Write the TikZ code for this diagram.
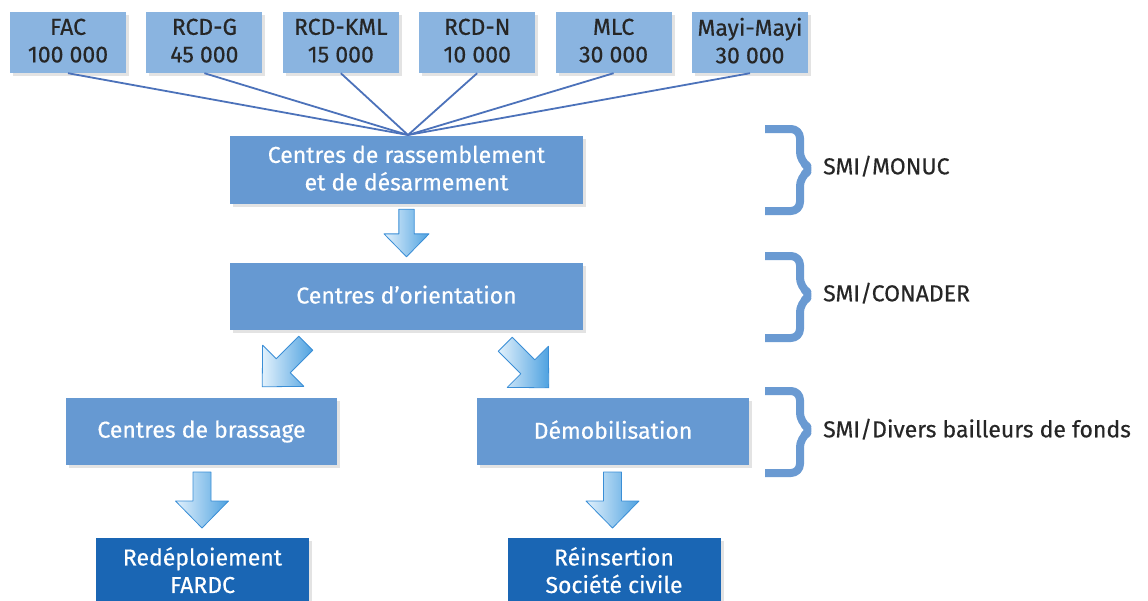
\documentclass[tikz,border=0pt]{standalone}
\usepackage{fontspec}
\setmainfont{Fira Sans}[RawFeature={embolden=0.45}]
\usetikzlibrary{positioning,shadows}
\definecolor{topblue}{HTML}{8AB4E0}
\definecolor{midblue}{HTML}{6699D2}
\definecolor{deepblue}{HTML}{1A66B4}
\definecolor{linkblue}{HTML}{4C72BA}
\definecolor{braceblue}{HTML}{6A9AD2}
\definecolor{arrowedge}{HTML}{3A8ED6}
\definecolor{arrowlight}{HTML}{E2F1FC}
\definecolor{arrowdark}{HTML}{4FA2E0}

% étai vertical pour centrer les capitales
\newcommand{\etai}{\rule[-4pt]{0pt}{20pt}}

% flèche bloc : #1 position, #2 rotation, #3 échelle
\newcommand{\blocfleche}[3]{
  \begin{scope}[shift={#1}, rotate=#2, scale=#3]
    \draw[fleche] (-9,-28) -- (9,-28) -- (9,1) -- (26.5,1) -- (0,28)
      -- (-26.5,1) -- (-9,1) -- cycle;
  \end{scope}
}

\begin{document}
\begin{tikzpicture}[x=1pt, y=-1pt, line join=round,
    every node/.style={font=\fontsize{23}{27.5}\selectfont, align=center, inner sep=0pt,
      execute at begin node=\etai, execute at end node=\etai},
    ombre/.style={drop shadow={opacity=0.22, shadow xshift=3pt, shadow yshift=-3pt}},
    force/.style={ombre, fill=topblue, text=black!85, minimum width=116pt, minimum height=61pt},
    etape/.style={ombre, fill=midblue, text=white, minimum height=67pt},
    sortie/.style={ombre, fill=deepblue, text=white, minimum width=213pt, minimum height=68pt},
    lien/.style={draw=linkblue, line width=1.8pt},
    accolade/.style={draw=braceblue, line width=8pt, rounded corners=9pt},
    fleche/.style={draw=arrowedge, line width=0.8pt, left color=arrowlight, right color=arrowdark},
    bailleur/.style={anchor=west, text=black!85}]
  \useasboundingbox (0,0) rectangle (1148,600);

  % 1. Forces d'origine
  \node[force] (fac) at (68,42.5) {FAC\\100 000};
  \node[force, right=20pt of fac] (rcdg) {RCD-G\\45 000};
  \node[force, right=20pt of rcdg] (kml) {RCD-KML\\15 000};
  \node[force, right=20pt of kml] (rcdn) {RCD-N\\10 000};
  \node[force, right=20pt of rcdn] (mlc) {MLC\\30 000};
  \node[force, right=20pt of mlc] (mayi) {Mayi-Mayi\\30 000};

  % 2. Étapes du processus
  \node[etape, minimum width=353pt, minimum height=68pt] (rass) at (406.5,170) {Centres de rassemblement\\et de désarmement};
  \node[etape, minimum width=353pt] (orient) at (406.5,296.5) {Centres d’orientation};
  \node[etape, minimum width=271pt] (brass) at (201.5,431.5) {Centres de brassage};
  \node[etape, minimum width=272pt] (demob) at (613,431.5) {Démobilisation};
  \node[sortie] (redep) at (202.5,572) {Redéploiement\\FARDC};
  \node[sortie] (reins) at (614,572) {Réinsertion\\Société civile};

  % 3. Liaisons vers le rassemblement
  \coordinate (hub) at (408,135);
  \foreach \f in {fac,rcdg,kml,rcdn,mlc,mayi}
    \draw[lien] (\f.south) -- (hub);

  % 4. Flèches bloc
  \blocfleche{(406.5,233)}{0}{0.85}
  \blocfleche{(284,365)}{-45}{1.1}
  \blocfleche{(527,366)}{45}{1.1}
  \blocfleche{(202,500)}{0}{1}
  \blocfleche{(612.5,500)}{0}{1}

  % 5. Accolades et bailleurs
  \draw[accolade] (765,129) -- (800,129) -- (800,161) -- (812,169) -- (800,177) -- (800,211) -- (765,211);
  \draw[accolade] (765,256) -- (800,256) -- (800,287) -- (812,295) -- (800,303) -- (800,338) -- (765,338);
  \draw[accolade] (765,391) -- (800,391) -- (800,422) -- (812,430) -- (800,438) -- (800,473) -- (765,473);
  \node[bailleur] (monuc) at (823,167) {SMI/MONUC};
  \node[bailleur] (conader) at (823,294) {SMI/CONADER};
  \node[bailleur] (divers) at (823,430) {SMI/Divers bailleurs de fonds};
\end{tikzpicture}
\end{document}
